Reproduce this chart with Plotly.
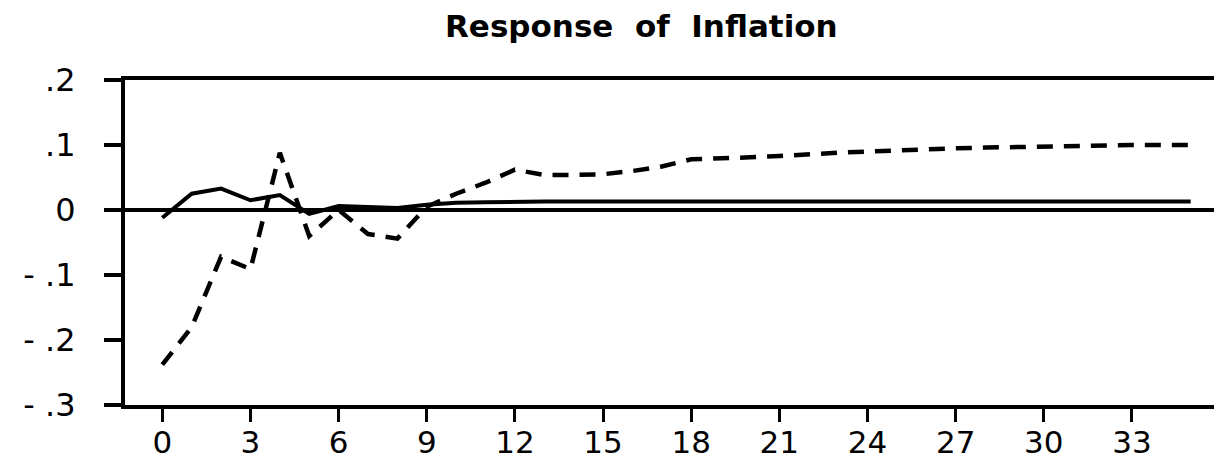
import plotly.graph_objects as go

periods = list(range(36))
solid_response = [-0.012, 0.025, 0.033, 0.015, 0.023, -0.006, 0.006, 0.004, 0.003, 0.008,
                  0.011, 0.012, 0.013, 0.013, 0.013, 0.013, 0.013, 0.013, 0.013, 0.013,
                  0.013, 0.013, 0.013, 0.013, 0.013, 0.013, 0.013, 0.013, 0.013, 0.013,
                  0.013, 0.013, 0.013, 0.013, 0.013, 0.013]
dashed_response = [-0.238, -0.18, -0.072, -0.091, 0.088, -0.040, 0.0, -0.037, -0.044, 0.005,
                   0.025, 0.042, 0.062, 0.054, 0.054, 0.055, 0.060, 0.067, 0.078, 0.079,
                   0.081, 0.083, 0.086, 0.088, 0.090, 0.092, 0.093, 0.095, 0.096, 0.097,
                   0.098, 0.099, 0.100, 0.100, 0.100, 0.100]

x_ticks = list(range(0, 34, 3))
x_ticktext = [str(v) for v in x_ticks]
y_ticks = [0.2, 0.1, 0.0, -0.1, -0.2, -0.3]
y_ticktext = [".2", ".1", "0", "- .1", "- .2", "- .3"]
title_text = "Response  of  Inflation"

FONT = "DejaVu Sans"

fig = go.Figure()
fig.add_trace(go.Scatter(x=periods, y=dashed_response, mode="lines",
                         line=dict(color="black", width=4.5, dash="16px,11px"),
                         showlegend=False))
fig.add_trace(go.Scatter(x=periods, y=solid_response, mode="lines",
                         line=dict(color="black", width=4),
                         showlegend=False))

fig.update_layout(
    width=1222, height=472,
    margin=dict(l=117, r=7, t=72, b=75, autoexpand=False),
    paper_bgcolor="white", plot_bgcolor="white",
    font=dict(family=FONT, color="black", size=32),
    annotations=[dict(text=title_text, x=0.47, y=1, xref="paper", yref="paper",
                      yanchor="bottom", yshift=34, showarrow=False,
                      font=dict(family=FONT, size=31, color="black", weight="bold"))],
)
fig.update_xaxes(range=[-1.27, 36.1], tickvals=x_ticks, ticktext=x_ticktext,
                 ticks="outside", ticklen=13, tickwidth=2.5, tickcolor="black",
                 showline=True, linewidth=4, linecolor="black", mirror=True,
                 showgrid=False, zeroline=False, ticklabelstandoff=-6, automargin=False,
                 tickfont=dict(family=FONT, size=31, color="black"))
fig.update_yaxes(range=[-0.3, 0.2], tickvals=y_ticks, ticktext=y_ticktext,
                 ticks="outside", ticklen=17, tickwidth=3.5, tickcolor="black",
                 showline=True, linewidth=4, linecolor="black", mirror=True,
                 showgrid=False, zeroline=True, zerolinewidth=4, zerolinecolor="black",
                 ticklabelstandoff=22, automargin=False,
                 tickfont=dict(family=FONT, size=32, color="black"))

fig.write_html("out.html")
